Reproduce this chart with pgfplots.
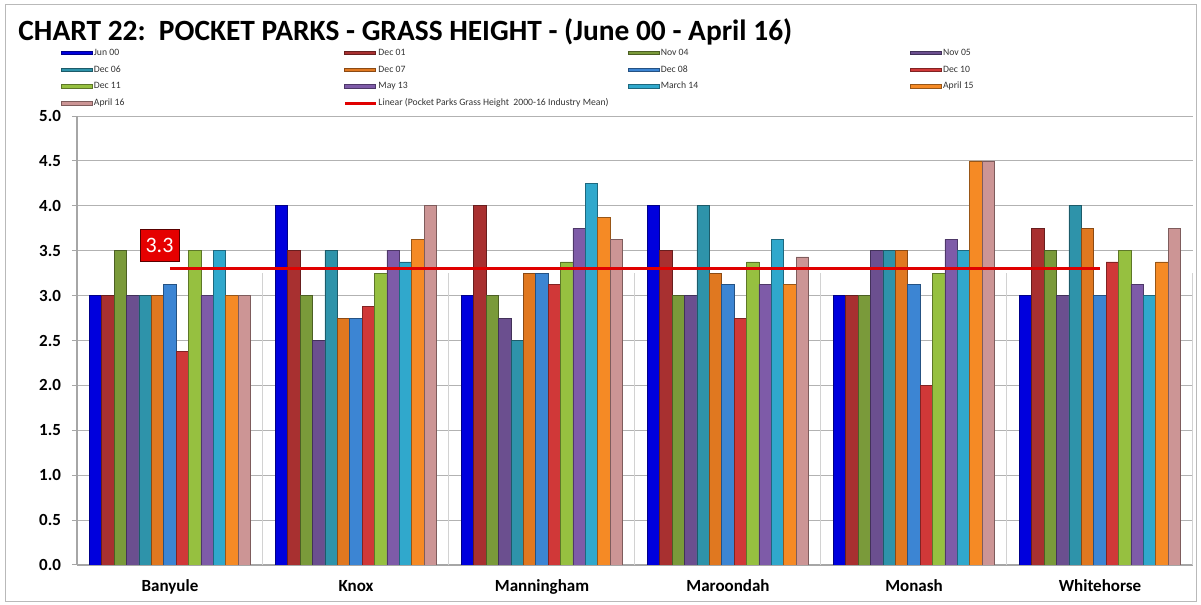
\documentclass[border=0pt]{standalone}
\usepackage{pgfplots}
\pgfplotsset{compat=1.18}
\usepackage{fontspec}
\setmainfont{Carlito}
\definecolor{c1}{HTML}{0000DD}
\definecolor{c2}{HTML}{A83030}
\definecolor{c3}{HTML}{7A9A3A}
\definecolor{c4}{HTML}{6B4F8F}
\definecolor{c5}{HTML}{2E93AA}
\definecolor{c6}{HTML}{E07820}
\definecolor{c7}{HTML}{3C85D3}
\definecolor{c8}{HTML}{D03838}
\definecolor{c9}{HTML}{96C040}
\definecolor{c10}{HTML}{7E5BA8}
\definecolor{c11}{HTML}{30A8CC}
\definecolor{c12}{HTML}{F58A25}
\definecolor{c13}{HTML}{CC9595}
\definecolor{trend}{HTML}{E00000}
\pgfplotsset{
  barleg/.style={legend image code/.code={\fill[##1] (0pt,-0.9pt) rectangle (15.5pt,0.9pt);}},
  lineleg/.style={legend image code/.code={\draw[##1] (0pt,0pt) -- (15.5pt,0pt);}},
  mybar/.style 2 args={ybar, bar width=6.2pt, bar shift=#2, fill=#1, draw=#1!62!black, line width=0.35pt},
}
\newcommand{\lgd}[1]{\makebox[125.3pt][l]{\hspace{0.6pt}#1}}
\begin{document}
\begin{tikzpicture}
\path[use as bounding box] (-38.5pt,-20pt) rectangle (562pt,282.5pt);
\draw[gray!55, line width=0.5pt] (-35.5pt,-18.5pt) rectangle (559.5pt,280pt);
\node[anchor=west, font=\bfseries\fontsize{14.7}{16}\selectfont, inner sep=0pt] at (-29.5pt,266.5pt)
  {CHART 22:\ \ POCKET PARKS - GRASS HEIGHT - (June 00 - April 16)};
\begin{axis}[
  at={(0,0)}, anchor=south west,
  scale only axis, width=558pt, height=224.5pt,
  xmin=-0.5, xmax=5.5, ymin=0, ymax=5,
  axis x line*=bottom, axis y line*=left,
  axis line style={gray!70, line width=0.6pt},
  xtick={0,1,2,3,4,5},
  xticklabels={Banyule,Knox,Manningham,Maroondah,Monash,Whitehorse},
  major x tick style={draw=none},
  xticklabel style={font=\bfseries\fontsize{8.5}{10}\selectfont, yshift=-1.5pt},
  extra x ticks={-0.5,0.5,1.5,2.5,3.5,4.5,5.5},
  extra x tick labels={},
  extra x tick style={tick style={gray!70, line width=0.5pt}, major tick length=3pt, tick align=outside, grid=none},
  ytick={0,0.5,...,5},
  ymajorgrids, grid style={gray!60, line width=0.5pt},
  tick align=outside, major tick length=2.5pt,
  ytick style={gray!70, line width=0.5pt},
  /pgf/number format/assume math mode=true,
  yticklabel={\pgfmathprintnumber[fixed, fixed zerofill, precision=1]{\tick}},
  yticklabel style={font=\bfseries\fontsize{8.5}{10}\selectfont, xshift=-2pt},
  barleg,
  legend columns=4,
  legend cell align=left,
  legend style={at={(axis description cs:0,1)}, anchor=north west, xshift=-8pt, yshift=35.7pt,
    draw=none, fill=none, inner sep=0pt, outer sep=0pt, row sep=0pt, column sep=0pt,
    font=\fontsize{4.85}{6}\selectfont, text=black!80,
    nodes={inner sep=0pt, text height=5.3pt, text depth=3.1pt}},
]
\foreach \xx in {0.5,1.5,2.5,3.5,4.5,5.5} {
  \edef\tmp{\noexpand\draw[gray!35, line width=0.5pt] (axis cs:\xx,0) -- (axis cs:\xx,3.25);}
  \tmp
}
\addplot[mybar={c1}{-37.2pt}]  coordinates {(0,3.0) (1,4.0) (2,3.0) (3,4.0) (4,3.0) (5,3.0)};
\addlegendentry{\lgd{Jun 00}}
\addplot[mybar={c2}{-31pt}]    coordinates {(0,3.0) (1,3.5) (2,4.0) (3,3.5) (4,3.0) (5,3.75)};
\addlegendentry{\lgd{Dec 01}}
\addplot[mybar={c3}{-24.8pt}]  coordinates {(0,3.5) (1,3.0) (2,3.0) (3,3.0) (4,3.0) (5,3.5)};
\addlegendentry{\lgd{Nov 04}}
\addplot[mybar={c4}{-18.6pt}]  coordinates {(0,3.0) (1,2.5) (2,2.75) (3,3.0) (4,3.5) (5,3.0)};
\addlegendentry{\lgd{Nov 05}}
\addplot[mybar={c5}{-12.4pt}]  coordinates {(0,3.0) (1,3.5) (2,2.5) (3,4.0) (4,3.5) (5,4.0)};
\addlegendentry{\lgd{Dec 06}}
\addplot[mybar={c6}{-6.2pt}]   coordinates {(0,3.0) (1,2.75) (2,3.25) (3,3.25) (4,3.5) (5,3.75)};
\addlegendentry{\lgd{Dec 07}}
\addplot[mybar={c7}{0pt}]      coordinates {(0,3.125) (1,2.75) (2,3.25) (3,3.125) (4,3.125) (5,3.0)};
\addlegendentry{\lgd{Dec 08}}
\addplot[mybar={c8}{6.2pt}]    coordinates {(0,2.375) (1,2.875) (2,3.125) (3,2.75) (4,2.0) (5,3.375)};
\addlegendentry{\lgd{Dec 10}}
\addplot[mybar={c9}{12.4pt}]   coordinates {(0,3.5) (1,3.25) (2,3.375) (3,3.375) (4,3.25) (5,3.5)};
\addlegendentry{\lgd{Dec 11}}
\addplot[mybar={c10}{18.6pt}]  coordinates {(0,3.0) (1,3.5) (2,3.75) (3,3.125) (4,3.625) (5,3.125)};
\addlegendentry{\lgd{May 13}}
\addplot[mybar={c11}{24.8pt}]  coordinates {(0,3.5) (1,3.375) (2,4.25) (3,3.625) (4,3.5) (5,3.0)};
\addlegendentry{\lgd{March 14}}
\addplot[mybar={c12}{31pt}]    coordinates {(0,3.0) (1,3.625) (2,3.875) (3,3.125) (4,4.5) (5,3.375)};
\addlegendentry{\lgd{April 15}}
\addplot[mybar={c13}{37.2pt}]  coordinates {(0,3.0) (1,4.0) (2,3.625) (3,3.43) (4,4.5) (5,3.75)};
\addlegendentry{\lgd{April 16}}
\addplot[trend, line width=1.5pt, sharp plot, no markers, lineleg] coordinates {(0,3.3) (5,3.3)};
\addlegendentry{\lgd{Linear (Pocket Parks Grass Height\ \ 2000-16 Industry Mean)}}
\node[fill=red!90!black, draw=red!35!black, line width=0.4pt, text=white, inner sep=0pt,
  minimum width=19.5pt, minimum height=16pt, font=\fontsize{11}{12}\selectfont]
  at (axis cs:-0.0565,3.555) {3.3};
\end{axis}
\end{tikzpicture}
\end{document}
